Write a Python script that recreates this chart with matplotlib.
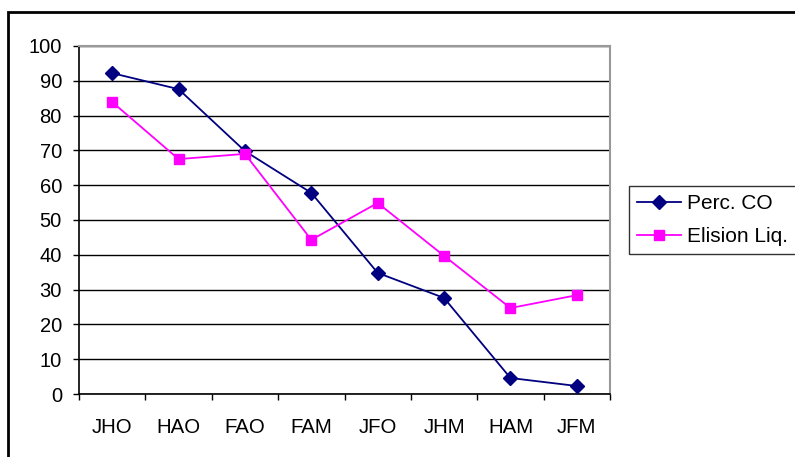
import matplotlib
matplotlib.use("Agg")
import matplotlib.pyplot as plt
from matplotlib.patches import Rectangle
import numpy as np

categories = ["JHO", "HAO", "FAO", "FAM", "JFO", "JHM", "HAM", "JFM"]
perc_co = [92.2, 87.6, 69.8, 57.8, 34.8, 27.6, 4.6, 2.3]
elision_liq = [83.9, 67.5, 69.0, 44.3, 54.9, 39.7, 24.7, 28.4]

plt.rcParams['font.family'] = ['Liberation Sans', 'DejaVu Sans']

W, H = 795, 457
fig = plt.figure(figsize=(W / 100, H / 100), dpi=100)
fig.patch.set_facecolor('white')

ax = fig.add_axes([79 / W, 1 - 394 / H, (610 - 79) / W, (394 - 46) / H])
x = np.arange(len(categories))

ax.plot(x, perc_co, color='#000080', marker='D', markersize=7.5, linewidth=1.3,
        label='Perc. CO', zorder=3)
ax.plot(x, elision_liq, color='#FF00FF', marker='s', markersize=7, linewidth=1.3,
        label='Elision Liq.', zorder=3)

ax.set_xlim(-0.5, len(categories) - 0.5)
ax.set_ylim(0, 100)
ax.set_yticks(np.arange(0, 101, 10))
ax.yaxis.grid(True, color='black', linewidth=1)
ax.set_axisbelow(True)

ax.set_xticks(np.arange(-0.5, len(categories), 1.0))
ax.set_xticklabels([])
ax.set_xticks(x, minor=True)
ax.set_xticklabels(categories, minor=True)
ax.tick_params(axis='x', which='major', direction='out', length=4.5, width=1, color='black')
ax.tick_params(axis='x', which='minor', length=0, pad=17, labelsize=14.7)
ax.tick_params(axis='y', direction='out', length=4.3, width=1, pad=8, labelsize=14.5)

for s in ['left', 'bottom']:
    ax.spines[s].set_color('black')
    ax.spines[s].set_linewidth(1.2)
for s in ['top', 'right']:
    ax.spines[s].set_color('#999999')
    ax.spines[s].set_linewidth(1.5)

# outer chart border
fig.patches.append(Rectangle((8 / W, -0.1), 1.2, 1 - 12 / H + 0.1, transform=fig.transFigure,
                             fill=False, edgecolor='black', linewidth=2, clip_on=False))

leg = fig.legend(loc='upper left', bbox_to_anchor=(629 / W, 1 - 186 / H), borderaxespad=0,
                 fontsize=15, frameon=True, fancybox=False, edgecolor='black',
                 labelspacing=0.65, handlelength=2.1, handletextpad=0.3,
                 borderpad=0.4)
leg.get_frame().set_linewidth(1)

fig.savefig('out.png', dpi=100)
